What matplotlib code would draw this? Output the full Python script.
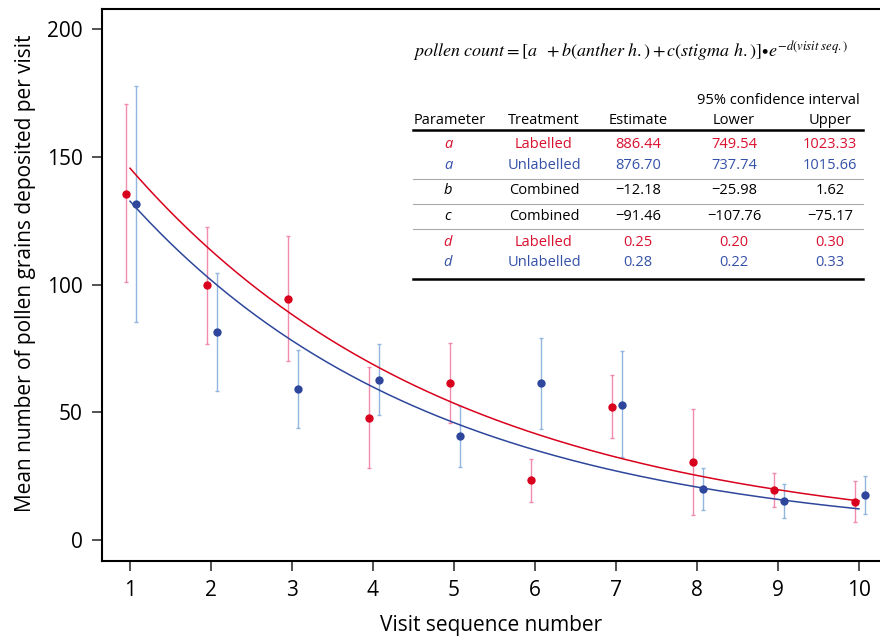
import matplotlib
matplotlib.use("Agg")
import matplotlib.pyplot as plt
import numpy as np
from matplotlib.lines import Line2D

# ---------------- data ----------------
visits = [1, 2, 3, 4, 5, 6, 7, 8, 9, 10]
lab_mean = [135.6, 99.8, 94.5, 47.9, 61.6, 23.4, 52.2, 30.6, 19.6, 15.0]
lab_hi   = [170.6, 122.6, 119.2, 67.9, 77.2, 31.6, 64.6, 51.3, 26.2, 23.2]
lab_lo   = [100.9, 76.9, 70.0, 28.1, 46.0, 15.0, 39.8, 9.7, 12.8, 6.9]
unl_mean = [131.5, 81.3, 59.1, 62.8, 40.7, 61.5, 53.0, 20.0, 15.4, 17.6]
unl_hi   = [177.8, 104.6, 74.4, 76.8, 52.5, 79.3, 74.2, 28.1, 22.1, 24.9]
unl_lo   = [85.3, 58.2, 43.7, 48.8, 28.6, 43.6, 32.4, 11.9, 8.6, 10.2]

# fitted curves (amplitude, decay rate)
lab_amp, lab_rate = 187.0, 0.25
unl_amp, unl_rate = 173.0, 0.265

x_ticks = [1, 2, 3, 4, 5, 6, 7, 8, 9, 10]
y_ticks = [0, 50, 100, 150, 200]

tbl_param = ["a", "a", "b", "c", "d", "d"]
tbl_treat = ["Labelled", "Unlabelled", "Combined", "Combined", "Labelled", "Unlabelled"]
tbl_est = ["886.44", "876.70", "\u221212.18", "\u221291.46", "0.25", "0.28"]
tbl_low = ["749.54", "737.74", "\u221225.98", "\u2212107.76", "0.20", "0.22"]
tbl_up = ["1023.33", "1015.66", "1.62", "\u221275.17", "0.30", "0.33"]
tbl_group = ["lab", "unl", "comb", "comb", "lab", "unl"]

# ---------------- style ----------------
RED = "#d8001c"
BLUE = "#2e479c"
PINK = "#f28cab"
LBLUE = "#92b6df"
TRED = "#d9102e"
TBLUE = "#3550a8"
FONT = "Open Sans"
plt.rcParams["font.family"] = [FONT, "DejaVu Sans"]
plt.rcParams["mathtext.fontset"] = "stix"

W, H = 880, 642
fig = plt.figure(figsize=(W / 100, H / 100), dpi=100)
ax_l, ax_r, ax_t, ax_b = 102, 880, 9, 561
ax = fig.add_axes([ax_l / W, 1 - ax_b / H, (ax_r - ax_l) / W, (ax_b - ax_t) / H])

ax.set_xlim(0.654, 10.26)
ax.set_ylim(-8.2, 208)

v = np.array(visits, dtype=float)
off_r, off_b = -0.05, 0.07

ax.errorbar(v + off_r, lab_mean,
            yerr=[np.array(lab_mean) - np.array(lab_lo), np.array(lab_hi) - np.array(lab_mean)],
            fmt="none", ecolor=PINK, elinewidth=1.0, capsize=1.5, capthick=1.0, zorder=2)
ax.errorbar(v + off_b, unl_mean,
            yerr=[np.array(unl_mean) - np.array(unl_lo), np.array(unl_hi) - np.array(unl_mean)],
            fmt="none", ecolor=LBLUE, elinewidth=1.0, capsize=1.5, capthick=1.0, zorder=2)

xs = np.linspace(1, 10, 300)
ax.plot(xs, lab_amp * np.exp(-lab_rate * xs), color=RED, lw=1.1, zorder=3)
ax.plot(xs, unl_amp * np.exp(-unl_rate * xs), color=BLUE, lw=1.1, zorder=3)

ax.plot(v + off_r, lab_mean, "o", color=RED, ms=6, mec="none", zorder=4)
ax.plot(v + off_b, unl_mean, "o", color=BLUE, ms=6, mec="none", zorder=4)

ax.set_xticks(x_ticks)
ax.set_yticks(y_ticks)
ax.tick_params(direction="out", length=7, width=1.2, labelsize=15, pad=7, color="#333333")
for s in ["left", "bottom", "top"]:
    ax.spines[s].set_linewidth(1.5)
ax.spines["right"].set_visible(False)

ax.set_xlabel("Visit sequence number", fontsize=15, labelpad=10)
ax.set_ylabel("Mean number of pollen grains deposited per visit", fontsize=15, labelpad=10)
ax.yaxis.set_label_coords(-0.085, 0.522)

# ---------------- formula + table ----------------
def P(px, py):
    return px / W, 1 - py / H

ft = fig.transFigure
fig.text(*P(413, 58),
         r"$pollen\ count = [a\;\;+ b(anther\ h.) + c(stigma\ h.)]\!\bullet\! e^{-d(visit\ seq.)}$",
         fontsize=13, ha="left", va="baseline", transform=ft)

tfs = 10.5
col_param, col_treat, col_est, col_low, col_up = 448, 544, 638, 734, 830
fig.text(*P(860, 100), "95% confidence interval", fontsize=tfs, ha="right", va="center")
fig.text(*P(414, 120), "Parameter", fontsize=tfs, ha="left", va="center")
for cx, lab in [(col_treat, "Treatment"), (col_est, "Estimate"), (col_low, "Lower"), (col_up, "Upper")]:
    fig.text(*P(cx, 120), lab, fontsize=tfs, ha="center", va="center")

row_y = [145, 166, 191, 216.7, 242.3, 262.7]
cmap = {"lab": TRED, "unl": TBLUE, "comb": "black"}
for i, y in enumerate(row_y):
    c = cmap[tbl_group[i]]
    fig.text(*P(col_param, y), tbl_param[i], fontsize=tfs, ha="center", va="center",
             color=c, style="italic")
    fig.text(*P(col_treat, y), tbl_treat[i], fontsize=tfs, ha="center", va="center", color=c)
    fig.text(*P(col_est, y), tbl_est[i], fontsize=tfs, ha="center", va="center", color=c)
    fig.text(*P(col_low, y), tbl_low[i], fontsize=tfs, ha="center", va="center", color=c)
    fig.text(*P(col_up, y), tbl_up[i], fontsize=tfs, ha="center", va="center", color=c)


def hline(py, lw, color):
    x0, y0 = P(413, py)
    x1, _ = P(863, py)
    fig.add_artist(Line2D([x0, x1], [y0, y0], lw=lw, color=color, transform=ft))


hline(130, 1.8, "black")
hline(179.3, 0.8, "#aaaaaa")
hline(204.3, 0.8, "#aaaaaa")
hline(229.3, 0.8, "#aaaaaa")
hline(279, 1.8, "black")

fig.savefig("out.png", dpi=100)
